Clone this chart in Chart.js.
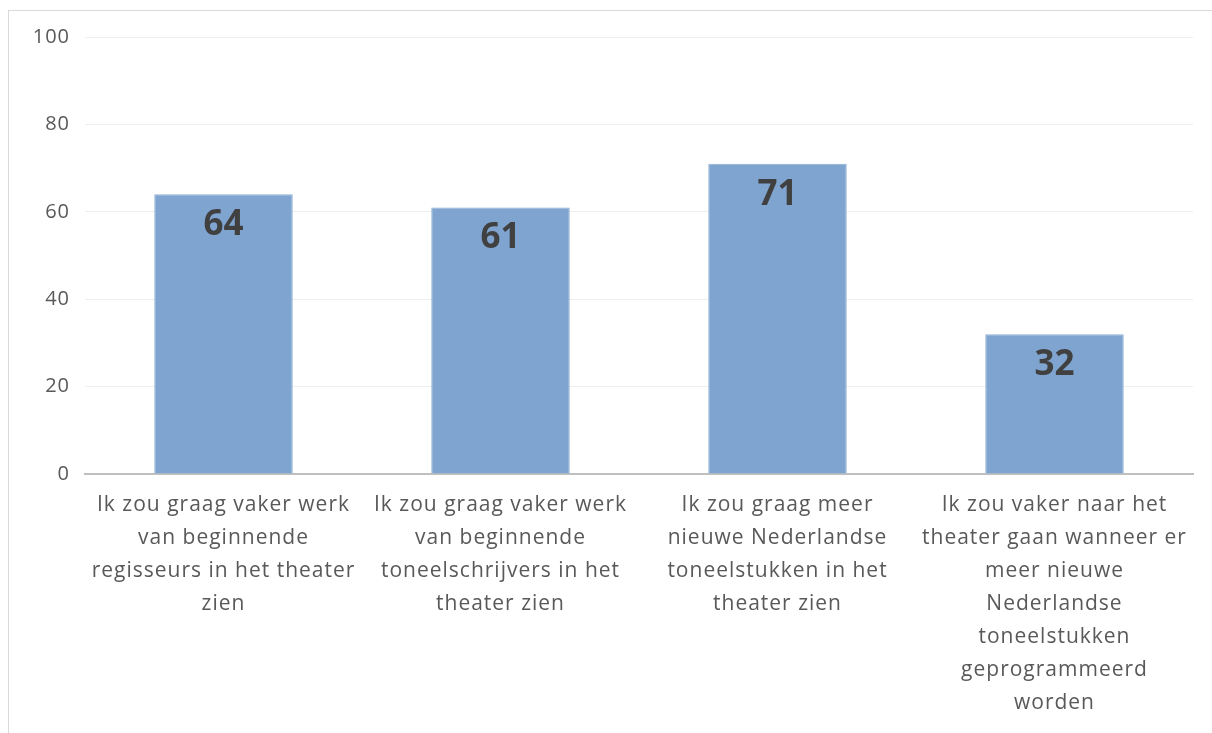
<!DOCTYPE html>
<html>
<head>
<meta charset="utf-8">
<script src="https://cdn.jsdelivr.net/npm/chart.js@4/dist/chart.umd.min.js"></script>
<style>
  html, body { margin: 0; padding: 0; background: #fff; }
  body { width: 1212px; height: 733px; overflow: hidden; position: relative; }
  .frame { position: absolute; left: 8px; top: 10px; width: 1300px; height: 800px;
           border-left: 1px solid #d9d9d9; border-top: 1px solid #d9d9d9; }
  #chart { position: absolute; left: 0; top: 0; }
</style>
</head>
<body>
<div class="frame"></div>
<canvas id="chart" width="1212" height="733"></canvas>
<script>
// statements (multi-line labels) and share of respondents agreeing
const labels = [
  ['Ik zou graag vaker werk', 'van beginnende', 'regisseurs in het theater', 'zien'],
  ['Ik zou graag vaker werk', 'van beginnende', 'toneelschrijvers in het', 'theater zien'],
  ['Ik zou graag meer', 'nieuwe Nederlandse', 'toneelstukken in het', 'theater zien'],
  ['Ik zou vaker naar het', 'theater gaan wanneer er', 'meer nieuwe', 'Nederlandse', 'toneelstukken', 'geprogrammeerd', 'worden']
];
const values = [64, 61, 71, 32];
const yTicks = [0, 20, 40, 60, 80, 100];

const FONT = '"Open Sans", "Liberation Sans", sans-serif';

// slightly looser tracking for the axis text
const tracking = {
  id: 'tracking',
  beforeUpdate(chart) { chart.ctx.letterSpacing = '1px'; },
  beforeDraw(chart) { chart.ctx.letterSpacing = '1px'; }
};

// value labels drawn just inside the top of each bar
const barValues = {
  id: 'barValues',
  afterDatasetsDraw(chart) {
    const ctx = chart.ctx;
    const meta = chart.getDatasetMeta(0);
    ctx.save();
    ctx.letterSpacing = '0px';
    ctx.font = 'bold 35px ' + FONT;
    ctx.fillStyle = '#404040';
    ctx.textAlign = 'center';
    ctx.textBaseline = 'middle';
    meta.data.forEach((bar, i) => {
      ctx.fillText(String(values[i]), bar.x, bar.y + 31);
    });
    ctx.restore();
  }
};

new Chart(document.getElementById('chart'), {
  type: 'bar',
  data: {
    labels,
    datasets: [{
      data: values,
      backgroundColor: '#7ea4cf',
      borderColor: '#8fb0d6',
      borderWidth: 1,
      categoryPercentage: 1,
      barPercentage: 0.5
    }]
  },
  options: {
    responsive: false,
    animation: false,
    layout: { padding: { top: 37, right: 19, left: 0, bottom: 0 } },
    plugins: { legend: { display: false }, tooltip: { enabled: false } },
    scales: {
      x: {
        grid: { display: false, drawTicks: false },
        border: { display: true, color: '#bfbfbf', width: 2 },
        ticks: {
          color: '#595959',
          font: { family: FONT, size: 21, lineHeight: '33px' },
          padding: 15,
          maxRotation: 0,
          autoSkip: false
        },
        afterFit(scale) { scale.height = 259; }
      },
      y: {
        min: 0,
        max: 100,
        afterBuildTicks(scale) { scale.ticks = yTicks.map(v => ({ value: v })); },
        grid: { color: '#eeeeee', lineWidth: 1, drawTicks: false },
        border: { display: false },
        ticks: {
          color: '#595959',
          font: { family: FONT, size: 20 },
          padding: 15
        },
        afterFit(scale) { scale.width = 85; }
      }
    }
  },
  plugins: [tracking, barValues]
});
</script>
</body>
</html>
